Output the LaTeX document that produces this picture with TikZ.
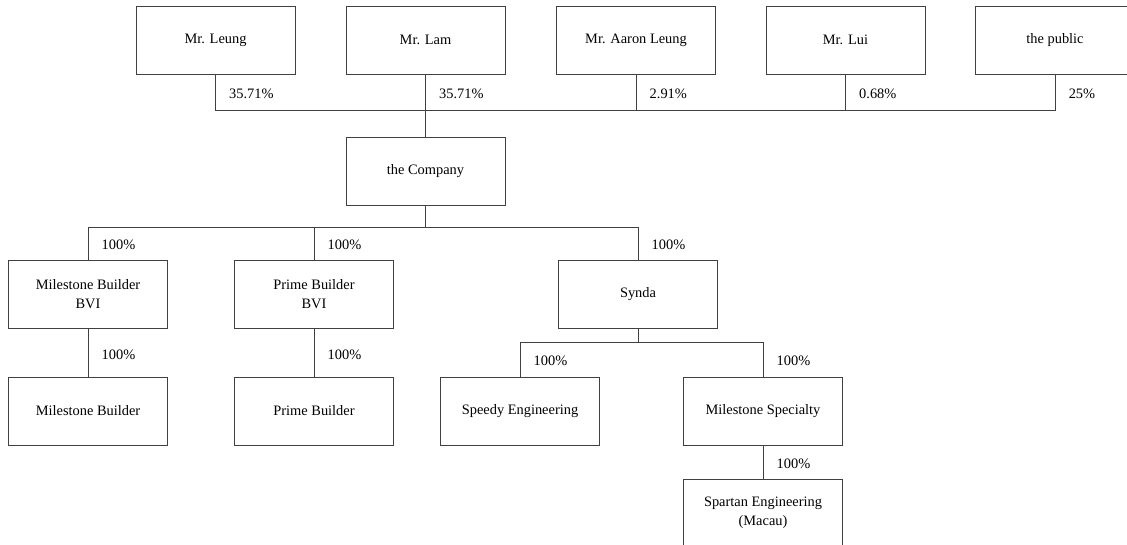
\documentclass[tikz,border=0pt]{standalone}
\usepackage{fontspec}
\setmainfont{Liberation Serif}
\usetikzlibrary{positioning}
\tikzset{
    % Plain outlined box used for every holder and company
    holder box/.style={
        draw=black!75, line width=0.6pt, align=center,
        minimum width=119.25pt, minimum height=51pt,
        font=\fontsize{10.8}{14.25}\selectfont},
%
    % Lines of the holding tree
    tree line/.style={draw=black!75, line width=0.6pt},
%
    % Shareholding percentage, set just right of its line
    share label/.style={anchor=west, inner sep=0pt, xshift=10pt,
        yshift=-1.5pt, font=\fontsize{10.8}{13}\selectfont, text=black}}

\begin{document}
\begin{tikzpicture}[x=0.75pt, y=-0.75pt]
\useasboundingbox (0,0) rectangle (1127,545);

\node [holder box] (leung)  at (215.5,40) {Mr. Leung};
\node [holder box] (lam)    at (425.5,40) {Mr. Lam};
\node [holder box] (aaron)  at (636,40)   {Mr. Aaron Leung};
\node [holder box] (lui)    at (845.5,40) {Mr. Lui};
\node [holder box] (public) at (1055,40)  {the public};

\node [holder box] (company) at (425.5,171) {the Company};

\node [holder box] (mb bvi) at (88,294)  {Milestone Builder\\BVI};
\node [holder box] (pb bvi) at (314,294) {Prime Builder\\BVI};
\node [holder box] (synda)  at (638,294) {Synda};

\node [holder box] (mb)      at (88,411)  {Milestone Builder};
\node [holder box] (pb)      at (314,411) {Prime Builder};
\node [holder box] (speedy)  at (520,411) {Speedy Engineering};
\node [holder box] (mspec)   at (763,411) {Milestone Specialty};
\node [holder box] (spartan) at (763,513) {Spartan Engineering\\(Macau)};

\coordinate (top bus) at (0,110);
\coordinate (co bus) at (0,227);
\coordinate (sy bus) at (0,342);

% shareholders of the Company
\draw [tree line] (leung.south) -- (leung.south |- top bus)
    node [share label, midway] {35.71\%}
    -- (public.south |- top bus) -- (public.south)
    node [share label, midway] {25\%};
\draw [tree line] (lam.south) -- (lam.south |- top bus)
    node [share label, midway] {35.71\%};
\draw [tree line] (lam.south |- top bus) -- (company.north);
\draw [tree line] (aaron.south) -- (aaron.south |- top bus)
    node [share label, midway] {2.91\%};
\draw [tree line] (lui.south) -- (lui.south |- top bus)
    node [share label, midway] {0.68\%};

% subsidiaries
\draw [tree line] (company.south) -- (company.south |- co bus);
\draw [tree line] (mb bvi.north) -- (mb bvi.north |- co bus)
    node [share label, midway] {100\%}
    -- (synda.north |- co bus) -- (synda.north)
    node [share label, midway] {100\%};
\draw [tree line] (pb bvi.north) -- (pb bvi.north |- co bus)
    node [share label, midway] {100\%};

\draw [tree line] (mb bvi) -- (mb) node [share label, midway] {100\%};
\draw [tree line] (pb bvi) -- (pb) node [share label, midway] {100\%};

\draw [tree line] (synda.south) -- (synda.south |- sy bus);
\draw [tree line] (speedy.north) -- (speedy.north |- sy bus)
    node [share label, midway] {100\%}
    -- (mspec.north |- sy bus) -- (mspec.north)
    node [share label, midway] {100\%};
\draw [tree line] (mspec) -- (spartan) node [share label, midway] {100\%};

\end{tikzpicture}
\end{document}
